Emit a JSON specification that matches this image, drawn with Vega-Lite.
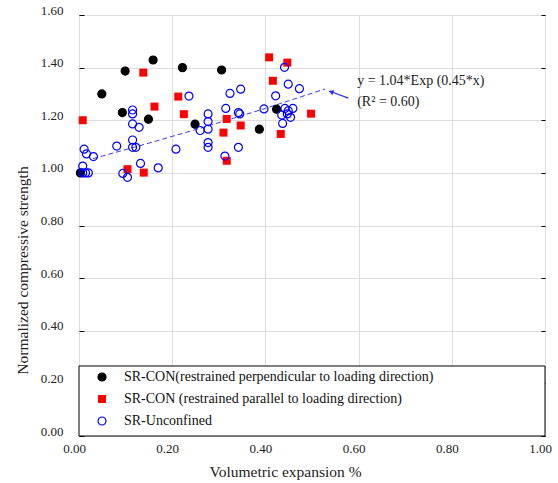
{
  "$schema": "https://vega.github.io/schema/vega-lite/v6.json",
  "width": 466,
  "height": 421,
  "autosize": {"type": "none"},
  "padding": {"left": 79, "top": 15, "right": 13, "bottom": 47},
  "background": "#ffffff",
  "config": {
    "font": "Liberation Serif, Times New Roman, serif",
    "view": {"stroke": "#000000", "strokeWidth": 1},
    "axis": {
      "labelFont": "Liberation Serif, Times New Roman, serif",
      "titleFont": "Liberation Serif, Times New Roman, serif",
      "labelFontSize": 13,
      "titleFontSize": 15,
      "titleFontWeight": "normal",
      "labelColor": "#222222",
      "titleColor": "#222222",
      "gridColor": "#dddddd",
      "gridWidth": 1,
      "domainColor": "#000000",
      "tickColor": "#000000"
    },
    "legend": {
      "labelFont": "Liberation Serif, Times New Roman, serif",
      "labelFontSize": 14,
      "labelColor": "#111111"
    }
  },
  "resolve": {"axis": {"y": "independent"}},
  "encoding": {
    "x": {"field": "x", "type": "quantitative", "scale": {"domain": [0, 1], "nice": false},
      "axis": {"title": "Volumetric expansion %", "format": ".2f", "values": [0, 0.2, 0.4, 0.6, 0.8, 1.0],
        "labelFont": "Liberation Serif, Times New Roman, serif", "titleFont": "Liberation Serif, Times New Roman, serif",
        "labelFontSize": 13, "titleFontSize": 15.5,
        "titleFontWeight": "normal", "labelColor": "#222222", "titleColor": "#222222", "gridColor": "#dddddd",
        "grid": true, "ticks": false, "domain": false, "labelFlush": false, "labelOverlap": false,
        "labelOffset": -5, "labelPadding": 6, "titleX": 206, "titleY": 35, "titleBaseline": "middle", "titleAlign": "center"}}
  },
  "layer": [
    {
      "description": "legend panel",
      "data": {"values": [{"x": 0, "x2": 1, "y": 0, "y2": 0.266}]},
      "mark": {"type": "rect", "fill": "#ffffff", "stroke": "#000000", "strokeWidth": 1},
      "encoding": {
        "x2": {"field": "x2"},
        "y": {"field": "y", "type": "quantitative", "scale": {"domain": [0, 1.6], "nice": false}, "axis": null},
        "y2": {"field": "y2"}
      }
    },
    {
      "description": "fitted exponential trend",
      "data": {"values": [
        {"x": 0.03, "y": 1.054},
        {"x": 0.15, "y": 1.113},
        {"x": 0.28, "y": 1.180},
        {"x": 0.40, "y": 1.245},
        {"x": 0.528, "y": 1.319}
      ]},
      "mark": {"type": "line", "color": "#3a3aff", "strokeWidth": 1, "strokeDash": [5, 3]},
      "encoding": {
        "y": {"field": "y", "type": "quantitative", "scale": {"domain": [0, 1.6], "nice": false},
          "axis": {"orient": "right", "labels": false, "grid": false, "domain": false, "ticks": true, "tickSize": -4, "title": null, "values": [0, 0.2, 0.4, 0.6, 0.8, 1.0, 1.2, 1.4, 1.6]}}
      }
    },
    {
      "description": "measured specimens",
      "data": {"values": [
        {"series": "SR-CON(restrained perpendicular to loading direction)", "x": 0.003, "y": 1.000},
        {"series": "SR-CON(restrained perpendicular to loading direction)", "x": 0.049, "y": 1.300},
        {"series": "SR-CON(restrained perpendicular to loading direction)", "x": 0.099, "y": 1.387},
        {"series": "SR-CON(restrained perpendicular to loading direction)", "x": 0.159, "y": 1.429},
        {"series": "SR-CON(restrained perpendicular to loading direction)", "x": 0.093, "y": 1.229},
        {"series": "SR-CON(restrained perpendicular to loading direction)", "x": 0.149, "y": 1.204},
        {"series": "SR-CON(restrained perpendicular to loading direction)", "x": 0.222, "y": 1.400},
        {"series": "SR-CON(restrained perpendicular to loading direction)", "x": 0.306, "y": 1.391},
        {"series": "SR-CON(restrained perpendicular to loading direction)", "x": 0.249, "y": 1.185},
        {"series": "SR-CON(restrained perpendicular to loading direction)", "x": 0.387, "y": 1.166},
        {"series": "SR-CON(restrained perpendicular to loading direction)", "x": 0.424, "y": 1.242},
        {"series": "SR-CON (restrained parallel to loading direction)", "x": 0.008, "y": 1.200},
        {"series": "SR-CON (restrained parallel to loading direction)", "x": 0.138, "y": 1.381},
        {"series": "SR-CON (restrained parallel to loading direction)", "x": 0.162, "y": 1.252},
        {"series": "SR-CON (restrained parallel to loading direction)", "x": 0.213, "y": 1.290},
        {"series": "SR-CON (restrained parallel to loading direction)", "x": 0.225, "y": 1.223},
        {"series": "SR-CON (restrained parallel to loading direction)", "x": 0.104, "y": 1.014},
        {"series": "SR-CON (restrained parallel to loading direction)", "x": 0.139, "y": 1.001},
        {"series": "SR-CON (restrained parallel to loading direction)", "x": 0.317, "y": 1.205},
        {"series": "SR-CON (restrained parallel to loading direction)", "x": 0.310, "y": 1.153},
        {"series": "SR-CON (restrained parallel to loading direction)", "x": 0.347, "y": 1.180},
        {"series": "SR-CON (restrained parallel to loading direction)", "x": 0.317, "y": 1.046},
        {"series": "SR-CON (restrained parallel to loading direction)", "x": 0.408, "y": 1.439},
        {"series": "SR-CON (restrained parallel to loading direction)", "x": 0.447, "y": 1.419},
        {"series": "SR-CON (restrained parallel to loading direction)", "x": 0.416, "y": 1.350},
        {"series": "SR-CON (restrained parallel to loading direction)", "x": 0.433, "y": 1.148},
        {"series": "SR-CON (restrained parallel to loading direction)", "x": 0.498, "y": 1.225},
        {"series": "SR-Unconfined", "x": 0.011, "y": 1.090},
        {"series": "SR-Unconfined", "x": 0.016, "y": 1.072},
        {"series": "SR-Unconfined", "x": 0.031, "y": 1.062},
        {"series": "SR-Unconfined", "x": 0.008, "y": 1.026},
        {"series": "SR-Unconfined", "x": 0.008, "y": 1.000},
        {"series": "SR-Unconfined", "x": 0.014, "y": 1.000},
        {"series": "SR-Unconfined", "x": 0.020, "y": 1.000},
        {"series": "SR-Unconfined", "x": 0.115, "y": 1.239},
        {"series": "SR-Unconfined", "x": 0.115, "y": 1.224},
        {"series": "SR-Unconfined", "x": 0.115, "y": 1.186},
        {"series": "SR-Unconfined", "x": 0.129, "y": 1.173},
        {"series": "SR-Unconfined", "x": 0.115, "y": 1.125},
        {"series": "SR-Unconfined", "x": 0.115, "y": 1.097},
        {"series": "SR-Unconfined", "x": 0.122, "y": 1.097},
        {"series": "SR-Unconfined", "x": 0.081, "y": 1.102},
        {"series": "SR-Unconfined", "x": 0.132, "y": 1.036},
        {"series": "SR-Unconfined", "x": 0.170, "y": 1.019},
        {"series": "SR-Unconfined", "x": 0.094, "y": 0.998},
        {"series": "SR-Unconfined", "x": 0.104, "y": 0.983},
        {"series": "SR-Unconfined", "x": 0.208, "y": 1.090},
        {"series": "SR-Unconfined", "x": 0.236, "y": 1.292},
        {"series": "SR-Unconfined", "x": 0.277, "y": 1.224},
        {"series": "SR-Unconfined", "x": 0.277, "y": 1.195},
        {"series": "SR-Unconfined", "x": 0.277, "y": 1.166},
        {"series": "SR-Unconfined", "x": 0.260, "y": 1.161},
        {"series": "SR-Unconfined", "x": 0.277, "y": 1.115},
        {"series": "SR-Unconfined", "x": 0.277, "y": 1.097},
        {"series": "SR-Unconfined", "x": 0.324, "y": 1.302},
        {"series": "SR-Unconfined", "x": 0.347, "y": 1.318},
        {"series": "SR-Unconfined", "x": 0.315, "y": 1.245},
        {"series": "SR-Unconfined", "x": 0.342, "y": 1.229},
        {"series": "SR-Unconfined", "x": 0.345, "y": 1.224},
        {"series": "SR-Unconfined", "x": 0.342, "y": 1.097},
        {"series": "SR-Unconfined", "x": 0.313, "y": 1.064},
        {"series": "SR-Unconfined", "x": 0.441, "y": 1.401},
        {"series": "SR-Unconfined", "x": 0.449, "y": 1.337},
        {"series": "SR-Unconfined", "x": 0.473, "y": 1.320},
        {"series": "SR-Unconfined", "x": 0.422, "y": 1.293},
        {"series": "SR-Unconfined", "x": 0.397, "y": 1.243},
        {"series": "SR-Unconfined", "x": 0.442, "y": 1.245},
        {"series": "SR-Unconfined", "x": 0.459, "y": 1.245},
        {"series": "SR-Unconfined", "x": 0.449, "y": 1.236},
        {"series": "SR-Unconfined", "x": 0.447, "y": 1.224},
        {"series": "SR-Unconfined", "x": 0.454, "y": 1.211},
        {"series": "SR-Unconfined", "x": 0.435, "y": 1.220},
        {"series": "SR-Unconfined", "x": 0.437, "y": 1.188}
      ]},
      "mark": {"type": "point", "size": 64, "strokeWidth": 1.2, "opacity": 1},
      "encoding": {
        "y": {"field": "y", "type": "quantitative", "scale": {"domain": [0, 1.6], "nice": false},
          "axis": {"title": "Normalized compressive strength", "format": ".2f", "values": [0, 0.2, 0.4, 0.6, 0.8, 1.0, 1.2, 1.4, 1.6],
            "labelFont": "Liberation Serif, Times New Roman, serif", "titleFont": "Liberation Serif, Times New Roman, serif",
            "titleFontSize": 15.5,
            "grid": true, "ticks": true, "tickSize": -5, "domain": false, "labelFlush": false, "labelOverlap": false,
            "labelOffset": -5, "labelPadding": 21, "titleX": -57, "titleY": 255, "titleBaseline": "middle", "titleAlign": "center", "titleAngle": -90}},
        "shape": {"field": "series", "type": "nominal",
          "scale": {"domain": ["SR-CON(restrained perpendicular to loading direction)", "SR-CON (restrained parallel to loading direction)", "SR-Unconfined"], "range": ["circle", "square", "circle"]},
          "legend": {"title": null, "orient": "none", "legendX": 16, "legendY": 355, "padding": 0, "rowPadding": 8, "symbolSize": 64, "symbolStrokeWidth": 1.2, "labelOffset": 15, "labelLimit": 500}},
        "fill": {"field": "series", "type": "nominal",
          "scale": {"domain": ["SR-CON(restrained perpendicular to loading direction)", "SR-CON (restrained parallel to loading direction)", "SR-Unconfined"], "range": ["#000000", "#ff0000", "transparent"]},
          "legend": {"title": null, "orient": "none", "legendX": 16, "legendY": 355, "padding": 0, "rowPadding": 8, "symbolSize": 64, "symbolStrokeWidth": 1.2, "labelOffset": 15, "labelLimit": 500}},
        "stroke": {"field": "series", "type": "nominal",
          "scale": {"domain": ["SR-CON(restrained perpendicular to loading direction)", "SR-CON (restrained parallel to loading direction)", "SR-Unconfined"], "range": ["#000000", "transparent", "#0000ff"]},
          "legend": {"title": null, "orient": "none", "legendX": 16, "legendY": 355, "padding": 0, "rowPadding": 8, "symbolSize": 64, "symbolStrokeWidth": 1.2, "labelOffset": 15, "labelLimit": 500}}
      }
    },
    {
      "description": "equation of the fitted curve",
      "data": {"values": [
        {"x": 0.597, "y": 1.350, "label": "y = 1.04*Exp (0.45*x)"},
        {"x": 0.597, "y": 1.271, "label": "(R² = 0.60)"}
      ]},
      "mark": {"type": "text", "align": "left", "baseline": "middle", "fontSize": 14, "font": "Liberation Serif, Times New Roman, serif", "color": "#222222"},
      "encoding": {
        "y": {"field": "y", "type": "quantitative", "scale": {"domain": [0, 1.6], "nice": false}, "axis": null},
        "text": {"field": "label"}
      }
    },
    {
      "description": "pointer from the equation to the curve",
      "data": {"values": [{"x": 0.578, "y": 1.284, "x2": 0.537, "y2": 1.311}]},
      "mark": {"type": "rule", "color": "#2a2aff", "strokeWidth": 1.2},
      "encoding": {
        "y": {"field": "y", "type": "quantitative", "scale": {"domain": [0, 1.6], "nice": false}, "axis": null},
        "x2": {"field": "x2"},
        "y2": {"field": "y2"}
      }
    },
    {
      "description": "arrow head",
      "data": {"values": [{"x": 0.541, "y": 1.308}]},
      "mark": {"type": "point", "shape": "triangle-up", "filled": true, "size": 30, "angle": 291, "color": "#2a2aff", "opacity": 1},
      "encoding": {
        "y": {"field": "y", "type": "quantitative", "scale": {"domain": [0, 1.6], "nice": false}, "axis": null}
      }
    }
  ]
}
